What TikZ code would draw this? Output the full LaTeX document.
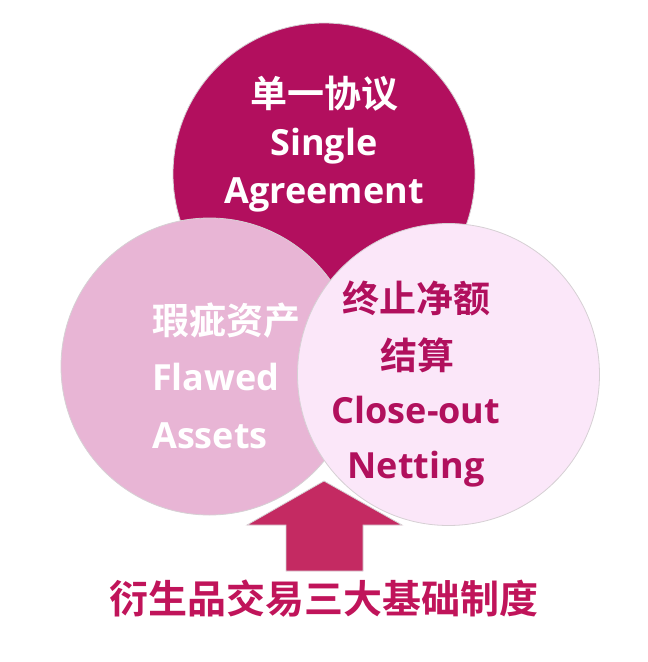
\documentclass[tikz,border=0pt]{standalone}
\usepackage{fontspec}
\setmainfont{Open Sans}[BoldFont={Open Sans Bold}]
\newfontfamily\cjk{Noto Sans CJK SC}[BoldFont={Noto Sans CJK SC Bold}]
\definecolor{topc}{HTML}{B20F5E}
\definecolor{leftc}{HTML}{E8B5D5}
\definecolor{rightc}{HTML}{FBE7F9}
\definecolor{arrowc}{HTML}{C42A62}
\definecolor{rtext}{HTML}{B1105D}
\definecolor{btext}{HTML}{C0145A}
\definecolor{edgec}{HTML}{D6D0D4}
\tikzset{
  bubble/.style={circle, draw=edgec, line width=0.8pt, inner sep=0pt},
  cjkline/.style={font=\cjk\bfseries\fontsize{37}{37}\selectfont, inner sep=0pt},
  latline/.style={font=\bfseries\fontsize{36}{36}\selectfont, inner sep=0pt},
}
\begin{document}
\begin{tikzpicture}[x=1pt, y=-1pt]
\useasboundingbox (0,0) rectangle (648,662);
% top circle
\node[bubble, fill=topc, minimum size=302pt] (top) at (324,174) {};
% arrow behind lower circles
\coordinate (tip) at (324,481);
\draw[fill=arrowc, draw=edgec, line width=0.8pt]
  (tip) -- (402,525) -- (363,525) -- (363,571) -- (286,571) -- (286,525) -- (247,525) -- cycle;
% left and right circles
\node[bubble, fill=leftc, minimum size=297pt] (left) at (209.5,366.5) {};
\node[bubble, fill=rightc, minimum size=302pt] (right) at (448.5,374.5) {};
% top texts
\node[cjkline, text=white] (t1) at (324,94) {单一协议};
\node[latline, text=white, anchor=base] (t2) at (324,155) {Single};
\node[latline, text=white, anchor=base] (t3) at (324,203) {Agreement};
% left texts
\node[cjkline, text=white, anchor=west] (l1) at (152,321) {瑕疵资产};
\node[latline, text=white, anchor=base west] (l2) at (152,390) {Flawed};
\node[latline, text=white, anchor=base west] (l3) at (152,448) {Assets};
% right texts
\node[cjkline, text=rtext] (r1) at (416,298) {终止净额};
\node[cjkline, text=rtext] (r2) at (417,355) {结算};
\node[latline, text=rtext, anchor=base] (r3) at (416,423) {Close-out};
\node[latline, text=rtext, anchor=base] (r4) at (416,478) {Netting};
% bottom title
\node[font=\cjk\bfseries\fontsize{39}{39}\selectfont, text=btext, inner sep=0pt] (title) at (324,599) {衍生品交易三大基础制度};
\end{tikzpicture}
\end{document}
